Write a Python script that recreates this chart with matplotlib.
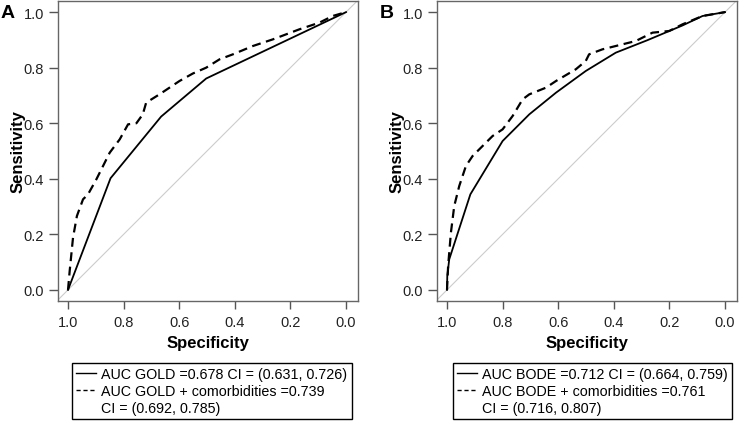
import matplotlib; matplotlib.use("Agg")
import matplotlib.pyplot as plt
from matplotlib.lines import Line2D

plt.rcParams["font.family"] = ["Liberation Sans", "DejaVu Sans"]

# panel A: GOLD
gold_spec = [1.0, 0.847, 0.665, 0.503, 0.0]
gold_sens = [0.0, 0.402, 0.624, 0.761, 1.0]
gold_c_spec = [1.0, 0.994, 0.982, 0.968, 0.946, 0.928, 0.898, 0.850, 0.814, 0.784, 0.754, 0.731,
               0.719, 0.671, 0.599, 0.551, 0.503, 0.455, 0.407, 0.335, 0.263, 0.168, 0.096, 0.048, 0.0]
gold_c_sens = [0.0, 0.068, 0.188, 0.266, 0.326, 0.344, 0.398, 0.494, 0.542, 0.596, 0.600, 0.632,
               0.674, 0.704, 0.752, 0.779, 0.800, 0.830, 0.848, 0.878, 0.902, 0.938, 0.962, 0.986, 1.0]

# panel B: BODE
bode_spec = [1.0, 0.999, 0.992, 0.916, 0.800, 0.704, 0.608, 0.501, 0.393, 0.279, 0.153, 0.081, 0.0]
bode_sens = [0.0, 0.050, 0.110, 0.344, 0.536, 0.632, 0.710, 0.788, 0.854, 0.899, 0.952, 0.986, 1.0]
bode_c_spec = [1.0, 0.996, 0.986, 0.974, 0.956, 0.932, 0.908, 0.872, 0.836, 0.800, 0.764, 0.728,
               0.704, 0.644, 0.608, 0.537, 0.501, 0.489, 0.441, 0.393, 0.321, 0.261, 0.201, 0.153,
               0.081, 0.0]
bode_c_sens = [0.0, 0.086, 0.206, 0.302, 0.374, 0.446, 0.482, 0.518, 0.554, 0.578, 0.626, 0.686,
               0.704, 0.728, 0.752, 0.794, 0.824, 0.848, 0.866, 0.878, 0.896, 0.926, 0.932, 0.956,
               0.986, 1.0]

ticks = [1.0, 0.8, 0.6, 0.4, 0.2, 0.0]
tick_labels = ["1.0", "0.8", "0.6", "0.4", "0.2", "0.0"]

panels = [
    ("A", gold_spec, gold_sens, gold_c_spec, gold_c_sens,
     ["AUC GOLD =0.678 CI = (0.631, 0.726)",
      "AUC GOLD + comorbidities =0.739",
      "CI = (0.692, 0.785)"]),
    ("B", bode_spec, bode_sens, bode_c_spec, bode_c_sens,
     ["AUC BODE =0.712 CI = (0.664, 0.759)",
      "AUC BODE + comorbidities =0.761",
      "CI = (0.716, 0.807)"]),
]

W, H = 739, 427
fig = plt.figure(figsize=(W / 100, H / 100), dpi=100)
lefts = [58, 437]
leg_lefts = [72, 453]

for i, (tag, sx, sy, cx, cy, labels) in enumerate(panels):
    ax = fig.add_axes([lefts[i] / W, 1 - 302 / H, 300 / W, 300 / H])
    ax.axline((1, 0), (0, 1), color="#cccccc", lw=0.8)
    ax.plot(sx, sy, color="black", lw=1.3)
    ax.plot(cx, cy, color="black", lw=1.6, ls=(0, (4, 2.5)))
    ax.set_xlim(1.036, -0.043)
    ax.set_ylim(-0.04, 1.04)
    ax.set_xticks(ticks, tick_labels)
    ax.set_yticks(ticks, tick_labels)
    ax.tick_params(direction="out", length=6.5, width=1, color="#555555",
                   labelsize=10.5, labelcolor="#222222", pad=3.5)
    ax.tick_params(axis="x", length=6, pad=4)
    for s in ax.spines.values():
        s.set_color("#666666")
        s.set_linewidth(1)
    ax.set_xlabel("Specificity", fontsize=12, fontweight="bold", va="center")
    ax.set_ylabel("Sensitivity", fontsize=12, fontweight="bold", va="center")
    ax.xaxis.set_label_coords(0.5, -42 / 300)
    ax.yaxis.set_label_coords(-40 / 300, 0.5)
    fig.text((lefts[i] - 50) / W, 1 - 13 / H, tag, fontsize=14, fontweight="bold",
             ha="center", va="center")
    handles = [Line2D([], [], color="black", lw=1),
               Line2D([], [], color="black", lw=1, ls=(0, (3, 2))),
               Line2D([], [], color="none")]
    leg = ax.legend(handles, labels, loc="upper left",
                    bbox_to_anchor=(leg_lefts[i] / W, 1 - 364 / H),
                    bbox_transform=fig.transFigure, fontsize=10.3, frameon=True,
                    fancybox=False, edgecolor="black", framealpha=1,
                    handlelength=1.35, handletextpad=0.4, borderpad=0.3,
                    labelspacing=0.2, borderaxespad=0)
    leg.get_frame().set_linewidth(1)

plt.savefig("out.png", dpi=100)
